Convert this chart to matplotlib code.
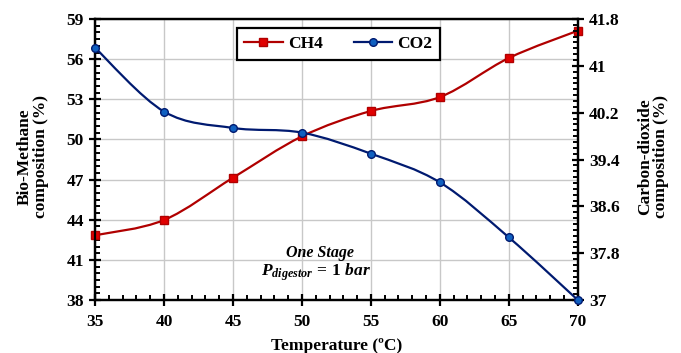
import matplotlib
matplotlib.use("Agg")
import matplotlib.pyplot as plt
from matplotlib.path import Path
from matplotlib.patches import PathPatch
from matplotlib.lines import Line2D
from matplotlib.ticker import MultipleLocator
import numpy as np

plt.rcParams['font.family'] = ['Liberation Serif', 'DejaVu Serif']
plt.rcParams['font.weight'] = 'bold'
plt.rcParams['mathtext.fontset'] = 'custom'
plt.rcParams['mathtext.it'] = 'Liberation Serif:bold:italic'
plt.rcParams['mathtext.rm'] = 'Liberation Serif:bold'

temperature = [35, 40, 45, 50, 55, 60, 65, 70]
ch4 = [42.84, 43.98, 47.14, 50.23, 52.13, 53.17, 56.09, 58.13]
co2 = [41.31, 40.22, 39.94, 39.86, 39.50, 39.01, 38.07, 37.0]

left_ticks = [38, 41, 44, 47, 50, 53, 56, 59]
right_ticks = [37, 37.8, 38.6, 39.4, 40.2, 41, 41.8]
right_labels = ['37', '37.8', '38.6', '39.4', '40.2', '41', '41.8']
x_ticks = [35, 40, 45, 50, 55, 60, 65, 70]

RED_LINE = '#B00000'
RED_MARK = '#E00000'
BLUE_LINE = '#001a70'
BLUE_MARK = '#1060C0'

FS = 12.5


def smooth_path(xs, ys):
    """Bezier path through the points, spreadsheet-style smoothing."""
    pts = np.column_stack([xs, ys]).astype(float)
    n = len(pts)
    verts = [pts[0]]
    codes = [Path.MOVETO]
    for i in range(n - 1):
        p0 = pts[i - 1] if i > 0 else pts[i]
        p1 = pts[i]
        p2 = pts[i + 1]
        p3 = pts[i + 2] if i + 2 < n else pts[i + 1]
        c1 = p1 + (p2 - p0) / 6.0
        c2 = p2 - (p3 - p1) / 6.0
        verts += [c1, c2, p2]
        codes += [Path.CURVE4] * 3
    return Path(verts, codes)


fig = plt.figure(figsize=(6.81, 3.53), dpi=100)
ax = fig.add_axes([0.1395, 0.150, 0.709, 0.796])
ax2 = ax.twinx()

ax.set_xlim(35, 70)
ax.set_ylim(38, 59)
ax2.set_ylim(37, 41.8)

ax.set_xticks(x_ticks)
ax.set_yticks(left_ticks)
ax.xaxis.set_minor_locator(MultipleLocator(1))
ax.yaxis.set_minor_locator(MultipleLocator(0.5))
ax2.set_yticks(right_ticks)
ax2.set_yticklabels(right_labels)
ax2.yaxis.set_minor_locator(MultipleLocator(0.1))

ax.grid(True, which='major', color='#c8c8c8', linewidth=1.0)
ax.set_axisbelow(True)

for a in (ax, ax2):
    for s in a.spines.values():
        s.set_linewidth(1.6)
        s.set_color('black')
ax.tick_params(which='major', direction='inout', length=8, width=1.6, labelsize=FS)
ax.tick_params(which='minor', direction='in', length=3.5, width=1.4)
ax2.tick_params(which='major', direction='inout', length=8, width=1.6, labelsize=FS)
ax2.tick_params(which='minor', direction='in', length=3.5, width=1.4)
ax.tick_params(axis='x', pad=6)
ax.tick_params(axis='y', pad=4)
ax2.tick_params(axis='y', pad=4)

# CH4 on the left axis
ax.add_patch(PathPatch(smooth_path(temperature, ch4), fill=False,
                       edgecolor=RED_LINE, linewidth=1.6, zorder=3))
ax.plot(temperature, ch4, linestyle='none', marker='s', markersize=5.5,
        markerfacecolor=RED_MARK, markeredgecolor=RED_LINE, zorder=4,
        clip_on=False)

# CO2 on the right axis
ax2.add_patch(PathPatch(smooth_path(temperature, co2), fill=False,
                        edgecolor=BLUE_LINE, linewidth=1.6, zorder=3))
ax2.plot(temperature, co2, linestyle='none', marker='o', markersize=5.5,
         markerfacecolor=BLUE_MARK, markeredgecolor=BLUE_LINE, zorder=4,
         clip_on=False)

ax.set_xlabel('Temperature (ºC)', fontsize=FS, fontweight='bold')
ax.xaxis.set_label_coords(0.5, -0.135)
ax.set_ylabel('Bio-Methane\ncomposition (%)', fontsize=FS, fontweight='bold',
              linespacing=1.0)
ax.yaxis.set_label_coords(-0.095, 0.51)
ax2.set_ylabel('Carbon-dioxide\ncomposition (%)', fontsize=FS, fontweight='bold',
               linespacing=1.0, rotation=90)
ax2.yaxis.set_label_coords(1.122, 0.51)

handles = [
    Line2D([], [], color=RED_LINE, linewidth=1.6, marker='s', markersize=5.5,
           markerfacecolor=RED_MARK, markeredgecolor=RED_LINE),
    Line2D([], [], color=BLUE_LINE, linewidth=1.6, marker='o', markersize=5.5,
           markerfacecolor=BLUE_MARK, markeredgecolor=BLUE_LINE),
]
leg = ax2.legend(handles, ['CH4', 'CO2'], ncol=2, loc='upper center',
                 bbox_to_anchor=(0.504, 0.968), frameon=True, fancybox=False,
                 fontsize=FS, handlelength=2.2, columnspacing=1.8,
                 handletextpad=0.3, borderpad=0.45, borderaxespad=0,
                 edgecolor='black', framealpha=1)
leg.get_frame().set_linewidth(1.6)

ax.text(0.466, 0.167, 'One Stage', transform=ax.transAxes, ha='center',
        va='center', fontsize=FS - 1, fontstyle='italic', fontweight='bold')
ax.text(0.458, 0.10, r'$P_{digestor}\,=\,\mathrm{1}\ bar$', transform=ax.transAxes,
        ha='center', va='center', fontsize=FS)

fig.savefig('out.png', dpi=100)
